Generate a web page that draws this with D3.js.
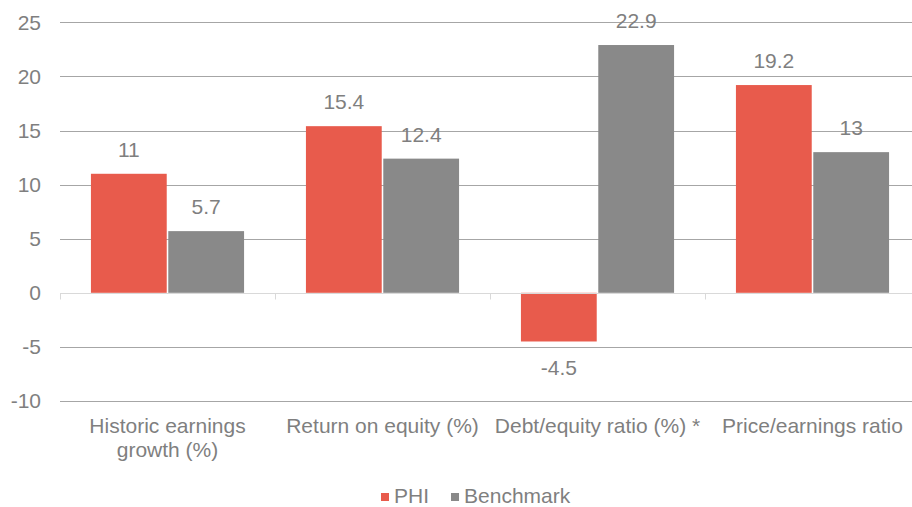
<!DOCTYPE html>
<html>
<head>
<meta charset="utf-8">
<script src="https://cdn.jsdelivr.net/npm/d3@7"></script>
<style>
  html, body { margin: 0; padding: 0; background: #fff; }
  svg { display: block; font-family: "Liberation Sans", Arial, sans-serif; }
</style>
</head>
<body>
<svg id="chart" width="912" height="507"></svg>
<script>
const categories = ["Historic earnings growth (%)", "Return on equity (%)", "Debt/equity ratio (%) *", "Price/earnings ratio"];
const seriesNames = ["PHI", "Benchmark"];
const phiValues = [11, 15.4, -4.5, 19.2];
const benchmarkValues = [5.7, 12.4, 22.9, 13];
const yTicks = [-10, -5, 0, 5, 10, 15, 20, 25];
const colors = ["#E85B4C", "#898989"];

const svg = d3.select("#chart");
const W = 912, H = 507;
const plotLeft = 60, plotRight = 920;
const textColor = "#7F7F7F";
const fontSize = 21;

const x = d3.scaleBand().domain(categories).range([plotLeft, plotRight]).paddingInner(0).paddingOuter(0);
const x1 = d3.scaleBand().domain(seriesNames).range([0, x.bandwidth()]).paddingInner(0.02).paddingOuter(0.4);
const y = d3.scaleLinear().domain([-10, 25]).range([401, 22.3]);

// y axis labels
const yAxis = d3.axisLeft(y).tickValues(yTicks).tickSize(0).tickPadding(19).tickFormat(d => String(d));
const gAxis = svg.append("g").attr("transform", `translate(${plotLeft},0)`).call(yAxis);
gAxis.select(".domain").remove();
gAxis.selectAll("text").attr("fill", textColor).style("font-size", fontSize + "px").style("font-family", '"Liberation Sans", Arial, sans-serif');

// gridlines
svg.append("g").selectAll("line").data(yTicks.filter(d => d !== 0)).join("line")
  .attr("x1", plotLeft).attr("x2", W)
  .attr("y1", d => Math.round(y(d)) + 0.5).attr("y2", d => Math.round(y(d)) + 0.5)
  .attr("stroke", "#A6A6A6").attr("stroke-width", 1);

// bars
const data = categories.map((c, i) => ({ cat: c, vals: [phiValues[i], benchmarkValues[i]] }));
const groups = svg.append("g").selectAll("g").data(data).join("g")
  .attr("transform", d => `translate(${x(d.cat)},0)`);

groups.selectAll("rect").data(d => d.vals.map((v, j) => ({ v, s: seriesNames[j], j }))).join("rect")
  .attr("x", d => x1(d.s))
  .attr("width", x1.bandwidth())
  .attr("y", d => y(Math.max(0, d.v)))
  .attr("height", d => Math.abs(y(d.v) - y(0)))
  .attr("fill", d => colors[d.j]);

groups.selectAll("text.val").data(d => d.vals.map((v, j) => ({ v, s: seriesNames[j], j }))).join("text")
  .attr("class", "val")
  .attr("x", d => x1(d.s) + x1.bandwidth() / 2)
  .attr("y", d => d.v >= 0 ? y(d.v) - 17 : y(d.v) + 34)
  .attr("text-anchor", "middle")
  .attr("fill", textColor)
  .style("font-size", fontSize + "px")
  .text(d => String(d.v));

// zero axis line
const y0 = Math.round(y(0)) + 0.5;
svg.append("line").attr("x1", plotLeft).attr("x2", W).attr("y1", y0).attr("y2", y0)
  .attr("stroke", "#D9D9D9").attr("stroke-width", 1);
const bounds = categories.map(c => x(c)).concat([x(categories[categories.length - 1]) + x.bandwidth()]);
svg.append("g").selectAll("line").data(bounds).join("line")
  .attr("x1", d => Math.round(d) + 0.5).attr("x2", d => Math.round(d) + 0.5)
  .attr("y1", y0).attr("y2", y0 + 6)
  .attr("stroke", "#D9D9D9").attr("stroke-width", 1);

// category labels with wrapping
const catG = svg.append("g");
categories.forEach(c => {
  const cx = x(c) + x.bandwidth() / 2;
  const t = catG.append("text")
    .attr("x", cx)
    .attr("y", 433)
    .attr("text-anchor", "middle")
    .attr("fill", textColor)
    .style("font-size", fontSize + "px");
  const words = c.split(" ");
  let line = [];
  let tspan = t.append("tspan").attr("x", cx).attr("dy", 0);
  words.forEach(w => {
    line.push(w);
    tspan.text(line.join(" "));
    if (tspan.node().getComputedTextLength() > 208 && line.length > 1) {
      line.pop();
      tspan.text(line.join(" "));
      line = [w];
      tspan = t.append("tspan").attr("x", cx).attr("dy", 24).text(w);
    }
  });
});

// legend
const leg = svg.append("g");
let lx = 381;
seriesNames.forEach((s, i) => {
  leg.append("rect").attr("x", lx).attr("y", 493).attr("width", 8).attr("height", 8).attr("fill", colors[i]);
  const t = leg.append("text").attr("x", lx + 13).attr("y", 502.5).attr("fill", textColor)
    .style("font-size", fontSize + "px").text(s);
  lx += 13 + t.node().getComputedTextLength() + 22;
});
</script>
</body>
</html>
